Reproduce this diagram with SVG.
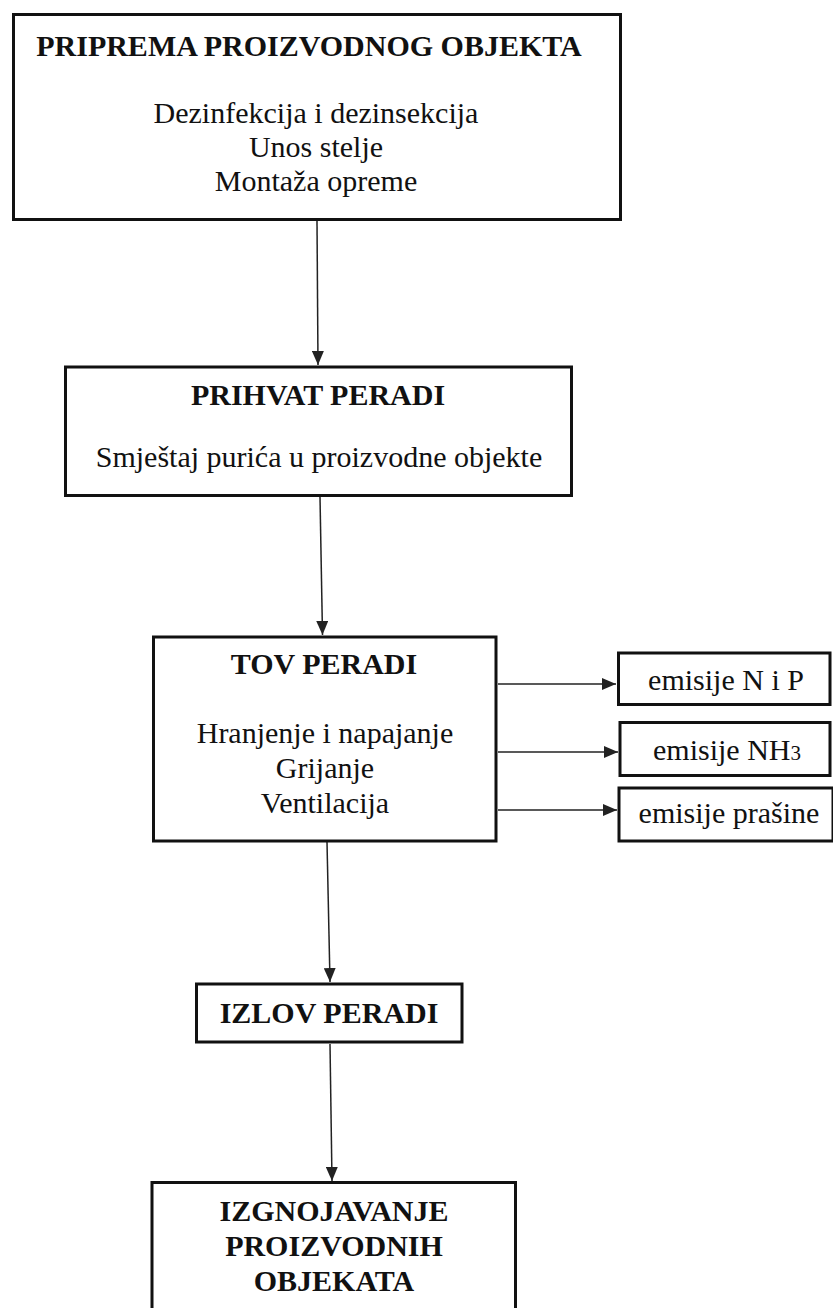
<svg xmlns="http://www.w3.org/2000/svg" width="833" height="1308" viewBox="0 0 833 1308">
<style>
.box{fill:#fff;stroke:#111;stroke-width:3}
.t{font-family:"Liberation Serif","Times New Roman",serif;font-size:30px;fill:#111;text-anchor:middle}
.b{font-weight:bold}
.c{stroke:#222;stroke-width:1.5;fill:none}
</style>
<defs>
<marker id="ah" markerUnits="userSpaceOnUse" markerWidth="14" markerHeight="12" refX="14" refY="6" orient="auto">
<path d="M0,0 L14,6 L0,12 z" fill="#222"/>
</marker>
</defs>
<rect width="833" height="1308" fill="#fff"/>
<g id="connectors">
<line class="c" x1="317" y1="221" x2="318" y2="365" marker-end="url(#ah)"/>
<line class="c" x1="320" y1="497" x2="322.5" y2="635" marker-end="url(#ah)"/>
<line class="c" x1="327" y1="842" x2="330" y2="982" marker-end="url(#ah)"/>
<line class="c" x1="330" y1="1044" x2="332" y2="1181" marker-end="url(#ah)"/>
<line class="c" x1="498" y1="684" x2="616" y2="684" marker-end="url(#ah)"/>
<line class="c" x1="498" y1="752" x2="618" y2="752" marker-end="url(#ah)"/>
<line class="c" x1="498" y1="810" x2="617" y2="810" marker-end="url(#ah)"/>
</g>
<g id="n1">
<rect class="box" x="13.5" y="14.5" width="607" height="205"/>
<text class="t b" x="309" y="56">PRIPREMA PROIZVODNOG OBJEKTA</text>
<text class="t" x="316" y="123">Dezinfekcija i dezinsekcija</text>
<text class="t" x="316" y="157">Unos stelje</text>
<text class="t" x="316" y="191">Montaža opreme</text>
</g>
<g id="n2">
<rect class="box" x="65.5" y="367" width="506" height="128.5"/>
<text class="t b" x="318" y="405">PRIHVAT PERADI</text>
<text class="t" x="319" y="467">Smještaj purića u proizvodne objekte</text>
</g>
<g id="n3">
<rect class="box" x="153.5" y="637" width="342.5" height="204"/>
<text class="t b" x="324" y="674">TOV PERADI</text>
<text class="t" x="325" y="743">Hranjenje i napajanje</text>
<text class="t" x="325" y="778">Grijanje</text>
<text class="t" x="325" y="813">Ventilacija</text>
</g>
<g id="e1">
<rect class="box" x="618.5" y="653" width="211.5" height="51.5"/>
<text class="t" x="726" y="690">emisije N i P</text>
</g>
<g id="e2">
<rect class="box" x="620" y="722.5" width="210" height="53"/>
<text class="t" x="727" y="760">emisije NH<tspan font-size="21">3</tspan></text>
</g>
<g id="e3">
<rect class="box" x="619" y="788" width="214" height="53"/>
<text class="t" x="729" y="823">emisije prašine</text>
</g>
<g id="n4">
<rect class="box" x="196.5" y="984" width="265.5" height="58"/>
<text class="t b" x="329" y="1023">IZLOV PERADI</text>
</g>
<g id="n5">
<rect class="box" x="152" y="1182.5" width="363.5" height="140"/>
<text class="t b" x="334" y="1221">IZGNOJAVANJE</text>
<text class="t b" x="334" y="1256">PROIZVODNIH</text>
<text class="t b" x="334" y="1291">OBJEKATA</text>
</g>
</svg>
